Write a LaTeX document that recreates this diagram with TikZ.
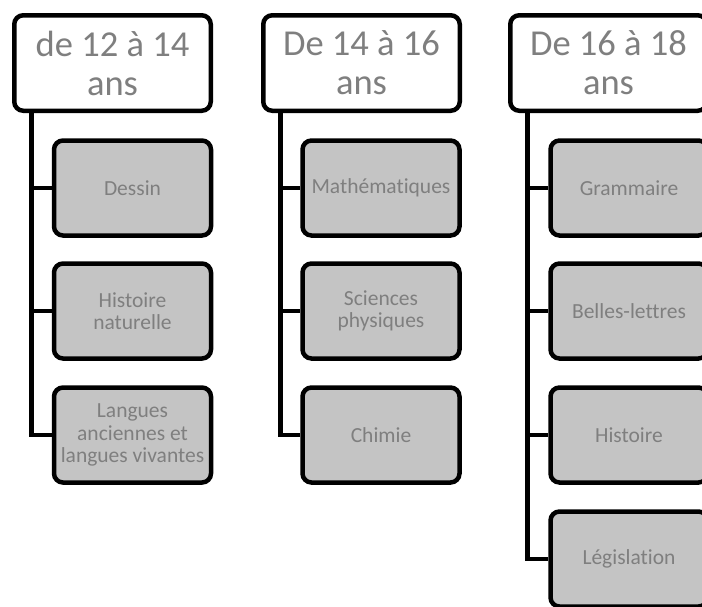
\documentclass[tikz,border=0pt]{standalone}
\usepackage{fontspec}
\setmainfont{Carlito}[Ligatures={NoCommon}]
\definecolor{txtgray}{HTML}{7F7F7F}
\definecolor{boxgray}{HTML}{C4C4C4}
\tikzset{
  hdr/.style={draw=black, line width=4.5pt, rounded corners=9pt, fill=white,
    minimum width=196.5pt, minimum height=95.5pt, align=center, inner sep=0pt,
    text=txtgray, font=\fontsize{36.5}{39}\selectfont},
  sub/.style={draw=black, line width=4.5pt, rounded corners=9pt, fill=boxgray,
    minimum width=157pt, minimum height=95pt, align=center, inner sep=0pt,
    text=txtgray, font=\fontsize{21.5}{22.5}\selectfont},
  link/.style={draw=black, line width=4.2pt}
}
\begin{document}
\begin{tikzpicture}[x=1pt,y=-1pt]
\useasboundingbox (0,0) rectangle (702,606);
\begin{scope}
\clip (0,0) rectangle (702,606);
% headers
\node[hdr] (h1) at (112.5,63) {de 12 à 14\\ans};
\node[hdr] (h2) at (361.5,63) {De 14 à 16\\ans};
\node[hdr] (h3) at (608.5,63) {De 16 à 18\\ans};
% column 1
\node[sub] (a1) at (132.5,188) {Dessin};
\node[sub] (a2) at (132.5,311) {Histoire\\naturelle};
\node[sub] (a3) at (132.5,435) {Langues\\anciennes et\\langues vivantes};
% column 2
\node[sub] (b1) at (381,188) {Mathématiques};
\node[sub] (b2) at (381,311) {Sciences\\physiques};
\node[sub] (b3) at (381,435) {Chimie};
% column 3
\node[sub] (c1) at (629,188) {Grammaire};
\node[sub] (c2) at (629,311) {Belles-lettres};
\node[sub] (c3) at (629,435) {Histoire};
\node[sub] (c4) at (629,559) {Législation};
% connectors
\foreach \h/\c in {h1/a1,h1/a2,h1/a3,h2/b1,h2/b2,h2/b3,h3/c1,h3/c2,h3/c3,h3/c4}{
  \draw[link] ([xshift=19.5pt]\h.south west) |- (\c.west);
}
\end{scope}
\end{tikzpicture}
\end{document}
